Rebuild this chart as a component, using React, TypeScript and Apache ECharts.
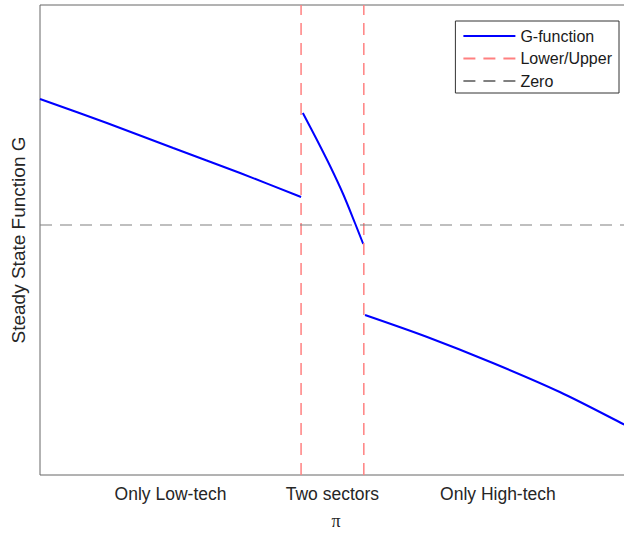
import React, { useEffect, useRef } from "react";
import * as echarts from "echarts";

// x: pi (normalised 0..1), y: G value
const xRange = [0, 1];
const yRange = [-2.5, 2.2];
const bounds = [0.441, 0.547]; // lower / upper
const seg1X = [0, 0.113, 0.225, 0.338, 0.441];
const seg1Y = [1.26, 1.02, 0.77, 0.52, 0.28];
const seg2X = [0.444, 0.467, 0.49, 0.512, 0.532, 0.546];
const seg2Y = [1.12, 0.86, 0.59, 0.31, 0.02, -0.19];
const seg3X = [0.549, 0.654, 0.765, 0.878, 0.985, 1.0];
const seg3Y = [-0.9, -1.12, -1.38, -1.67, -1.99, -2.04];
const tickLabels = ["Only Low-tech", "Two sectors", "Only High-tech"];
const seriesNames = ["G-function", "Lower/Upper", "Zero"];

const FONT = "'Liberation Sans', Arial, Helvetica, sans-serif";

export default function App() {
  const ref = useRef<HTMLDivElement>(null);
  useEffect(() => {
    if (!ref.current) return;
    const chart = echarts.init(ref.current, undefined, { renderer: "svg" });

    const zip = (xs: number[], ys: number[]) => xs.map((x, i) => [x, ys[i]]);
    const gData: any[] = [
      ...zip(seg1X, seg1Y),
      [(seg1X[seg1X.length - 1] + seg2X[0]) / 2, null],
      ...zip(seg2X, seg2Y),
      [(seg2X[seg2X.length - 1] + seg3X[0]) / 2, null],
      ...zip(seg3X, seg3Y),
    ];
    const bData: any[] = [
      [bounds[0], yRange[0]],
      [bounds[0], yRange[1]],
      [(bounds[0] + bounds[1]) / 2, null],
      [bounds[1], yRange[0]],
      [bounds[1], yRange[1]],
    ];
    const zData = [
      [xRange[0], 0],
      [xRange[1], 0],
    ];
    const tickPos = [
      (xRange[0] + bounds[0]) / 2,
      (bounds[0] + bounds[1]) / 2,
      (bounds[1] + xRange[1]) / 2,
    ];

    chart.setOption({
      animation: false,
      backgroundColor: "#ffffff",
      grid: {
        left: 40,
        top: 5,
        bottom: 58,
        width: 592,
        outerBoundsMode: "none",
        containLabel: false,
        show: true,
        borderColor: "#666666",
        borderWidth: 1,
        backgroundColor: "transparent",
      },
      legend: {
        orient: "vertical",
        right: 5,
        top: 21,
        align: "left",
        backgroundColor: "#ffffff",
        borderColor: "#333333",
        borderWidth: 1,
        borderRadius: 0,
        padding: [7, 7, 4, 7],
        itemWidth: 52,
        itemHeight: 14,
        itemGap: 6.5,
        itemStyle: { opacity: 0 },
        textStyle: {
          fontFamily: FONT,
          fontSize: 16,
          lineHeight: 16,
          color: "#1a1a1a",
        },
        data: seriesNames,
      },
      xAxis: {
        type: "value",
        min: xRange[0],
        max: xRange[1],
        name: "π",
        nameLocation: "middle",
        nameGap: 37,
        nameTextStyle: {
          fontFamily: "'Liberation Serif', 'DejaVu Serif', serif",
          fontSize: 18,
          lineHeight: 18,
          color: "#262626",
        },
        axisLine: { show: false },
        axisTick: { show: false },
        splitLine: { show: false },
        axisLabel: {
          customValues: tickPos,
          margin: 10,
          fontFamily: FONT,
          fontSize: 17.5,
          color: "#262626",
          formatter: (v: number) => {
            let best = 0;
            tickPos.forEach((p, i) => {
              if (Math.abs(p - v) < Math.abs(tickPos[best] - v)) best = i;
            });
            return tickLabels[best];
          },
        },
      },
      yAxis: {
        type: "value",
        min: yRange[0],
        max: yRange[1],
        name: "Steady State Function G",
        nameLocation: "middle",
        nameGap: 12,
        nameTextStyle: {
          fontFamily: FONT,
          fontSize: 19,
          color: "#262626",
        },
        axisLine: { show: false },
        axisTick: { show: false },
        axisLabel: { show: false },
        splitLine: { show: false },
      },
      series: [
        {
          name: seriesNames[0],
          type: "line",
          data: gData,
          symbol: "none",
          smooth: 0.3,
          connectNulls: false,
          lineStyle: { color: "#0000ff", width: 2 },
          itemStyle: { color: "#0000ff" },
        },
        {
          name: seriesNames[1],
          type: "line",
          data: bData,
          symbol: "none",
          connectNulls: false,
          lineStyle: { color: "#ff8080", width: 1.5, type: [12, 8] },
          itemStyle: { color: "#ff8080" },
        },
        {
          name: seriesNames[2],
          type: "line",
          data: zData,
          symbol: "none",
          lineStyle: { color: "#808080", width: 1.2, type: [12, 8] },
          itemStyle: { color: "#808080" },
        },
      ],
    });
    return () => chart.dispose();
  }, []);

  return (
    <div
      ref={ref}
      style={{ position: "fixed", left: 0, top: 0, width: 624, height: 533 }}
    />
  );
}
